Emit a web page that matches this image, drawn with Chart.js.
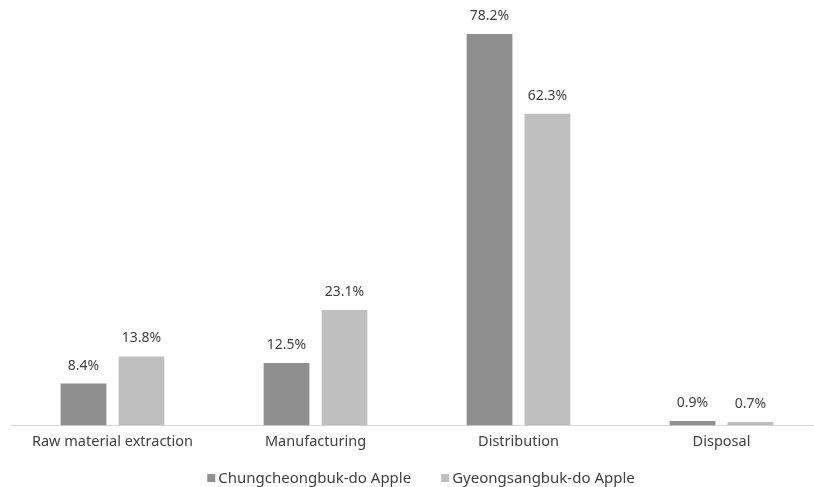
<!DOCTYPE html>
<html>
<head>
<meta charset="utf-8">
<script src="https://cdn.jsdelivr.net/npm/chart.js@4"></script>
<style>
  html, body { margin: 0; padding: 0; background: #fff; overflow: hidden; }
  #wrap { width: 823px; height: 487px; }
</style>
</head>
<body>
<div id="wrap"><canvas id="lcaChart"></canvas></div>
<script>
const categories = ['Raw material extraction', 'Manufacturing', 'Distribution', 'Disposal'];
const seriesNames = ['Chungcheongbuk-do Apple', 'Gyeongsangbuk-do Apple'];
const chungbukValues = [8.4, 12.5, 78.2, 0.9];
const gyeongbukValues = [13.8, 23.1, 62.3, 0.7];

const fontFamily = '"Noto Sans", sans-serif';
const textColor = '#404040';

// value labels above each bar
const valueLabels = {
    id: 'valueLabels',
    afterDatasetsDraw(chart) {
        const ctx = chart.ctx;
        ctx.save();
        ctx.font = '14px ' + fontFamily;
        ctx.fillStyle = textColor;
        ctx.textAlign = 'center';
        ctx.textBaseline = 'middle';
        chart.data.datasets.forEach((ds, i) => {
            chart.getDatasetMeta(i).data.forEach((bar, j) => {
                ctx.fillText(ds.data[j].toFixed(1) + '%', bar.x, bar.y - 18);
            });
        });
        ctx.restore();
    }
};

// legend drawn at the bottom, small squares like the original
const bottomLegend = {
    id: 'bottomLegend',
    afterDraw(chart) {
        const ctx = chart.ctx;
        ctx.save();
        ctx.font = '15px ' + fontFamily;
        ctx.textBaseline = 'middle';
        const items = chart.data.datasets.map(ds => ({
            text: ds.label,
            color: ds.backgroundColor,
            w: 8 + 3 + ctx.measureText(ds.label).width
        }));
        const gap = 30;
        const total = items.reduce((s, it) => s + it.w, 0) + gap * (items.length - 1);
        let x = 421 - total / 2;
        const y = 478;
        items.forEach(it => {
            ctx.fillStyle = it.color;
            ctx.fillRect(x, y - 4, 8, 8);
            ctx.fillStyle = textColor;
            ctx.fillText(it.text, x + 11, y + 1);
            x += it.w + gap;
        });
        ctx.restore();
    }
};

new Chart(document.getElementById('lcaChart'), {
    type: 'bar',
    data: {
        labels: categories,
        datasets: [{
            label: seriesNames[0],
            data: chungbukValues,
            backgroundColor: '#8f8f8f'
        }, {
            label: seriesNames[1],
            data: gyeongbukValues,
            backgroundColor: '#bfbfbf'
        }]
    },
    options: {
        responsive: true,
        maintainAspectRatio: false,
        animation: false,
        categoryPercentage: 0.571,
        barPercentage: 0.79,
        layout: {
            padding: { top: 25, left: 11, right: 0, bottom: 36 }
        },
        scales: {
            x: {
                grid: { display: false },
                border: { color: '#d9d9d9', width: 1 },
                ticks: {
                    font: { family: fontFamily, size: 14.5 },
                    color: textColor,
                    padding: 0
                }
            },
            y: {
                display: false,
                min: 0,
                max: 80
            }
        },
        plugins: {
            legend: { display: false },
            tooltip: { enabled: false }
        }
    },
    plugins: [valueLabels, bottomLegend]
});
</script>
</body>
</html>
